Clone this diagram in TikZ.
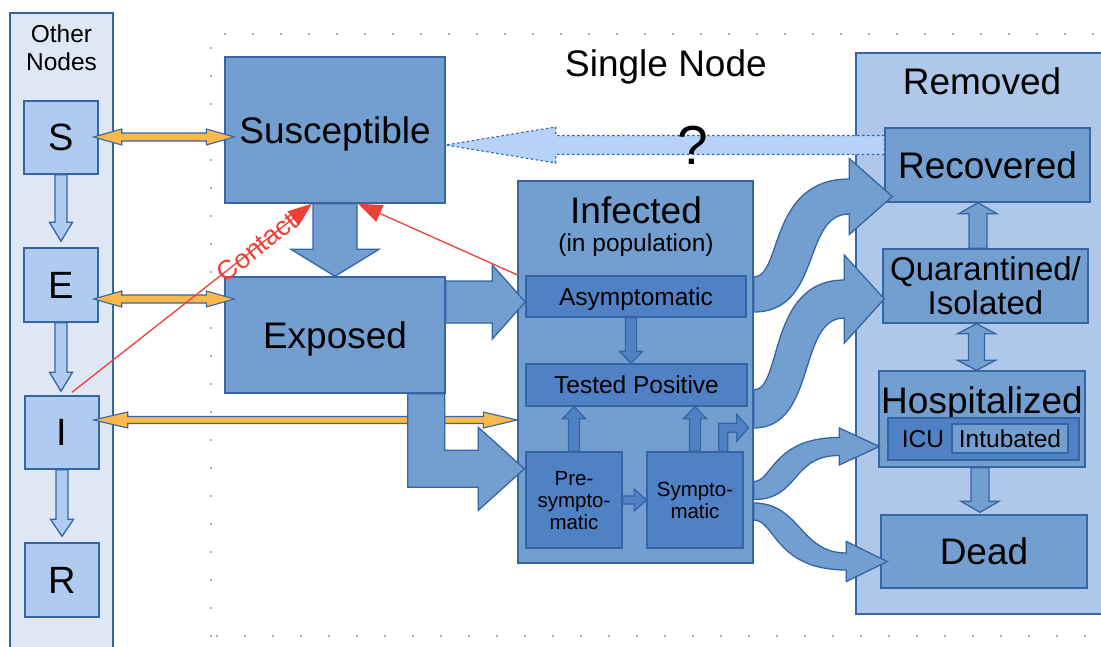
\documentclass[tikz,border=0pt]{standalone}
\usepackage{fontspec}
\setmainfont{Liberation Sans}
\usetikzlibrary{calc,arrows.meta}

\definecolor{flowfill}{HTML}{729FCF}
\definecolor{flowline}{HTML}{3465A4}
\definecolor{deepfill}{HTML}{5081C4}
\definecolor{panelfill}{HTML}{AFC7E8}
\definecolor{sidefill}{HTML}{DEE7F3}
\definecolor{seirfill}{HTML}{AFCBEF}
\definecolor{askfill}{HTML}{B6D2F6}
\definecolor{linkfill}{HTML}{FBB84B}
\definecolor{contactred}{HTML}{EE4036}

\tikzset{
  box/.style={draw=flowline, line width=1.4pt, fill=flowfill, inner sep=0pt, text=black, text depth=0pt},
  deepbox/.style={box, fill=deepfill},
  seirbox/.style={box, fill=seirfill},
  panel/.style={draw=flowline, line width=1.6pt, inner sep=0pt},
  flow/.style={draw=flowline, line width=1.3pt, fill=flowfill},
  deepflow/.style={flow, fill=deepfill},
  seirflow/.style={flow, fill=seirfill},
  linkflow/.style={draw=flowline, line width=1.1pt, fill=linkfill},
  askflow/.style={draw=flowline, line width=1.1pt, fill=askfill, dash pattern=on 2.5pt off 2.5pt},
  contact/.style={draw=contactred, line width=1.3pt, -{Triangle[length=24pt,width=18pt]}},
  txt/.style={inner sep=0pt, text=black, text depth=0pt},
  f20/.style={font=\fontsize{20.5}{22}\selectfont},
  f24/.style={font=\fontsize{24.5}{27.5}\selectfont},
  f32/.style={font=\fontsize{33}{34}\selectfont},
  f36/.style={font=\fontsize{37}{40}\selectfont},
  f37/.style={font=\fontsize{38}{40}\selectfont},
}

% straight block arrow: style, from, to, half shaft, half head, head length
\newcommand\blockarrow[6]{%
  \coordinate (baa) at (#2);
  \coordinate (bab) at (#3);
  \coordinate (bah) at ($(bab)!#6!(baa)$);
  \filldraw[#1] ($(baa)!#4!90:(bab)$) -- ($(bah)!#4!90:(bab)$) -- ($(bah)!#5!90:(bab)$)
    -- (bab) -- ($(bah)!#5!-90:(bab)$) -- ($(bah)!#4!-90:(bab)$) -- ($(baa)!#4!-90:(bab)$) -- cycle;}

% block arrow with a head at each end
\newcommand\twoblockarrow[6]{%
  \coordinate (tba) at (#2);
  \coordinate (tbb) at (#3);
  \coordinate (tbha) at ($(tba)!#6!(tbb)$);
  \coordinate (tbhb) at ($(tbb)!#6!(tba)$);
  \filldraw[#1] (tba) -- ($(tbha)!#5!90:(tbb)$) -- ($(tbha)!#4!90:(tbb)$)
    -- ($(tbhb)!#4!-90:(tba)$) -- ($(tbhb)!#5!-90:(tba)$) -- (tbb)
    -- ($(tbhb)!#5!90:(tba)$) -- ($(tbhb)!#4!90:(tba)$)
    -- ($(tbha)!#4!-90:(tbb)$) -- ($(tbha)!#5!-90:(tbb)$) -- cycle;}

% S-shaped flow arrow: start, tip, half shaft, half head, head length,
% control fractions of the upper edge (start, end) and lower edge (start, end)
\newcommand\sflowarrow[9]{%
  \coordinate (sfs) at (#1);
  \coordinate (sft) at (#2);
  \coordinate (sfb) at ($(sft)+(-#5,0)$);
  \coordinate (sfua) at ($(sfs)+(0,-#3)$);
  \coordinate (sfla) at ($(sfs)+(0,#3)$);
  \coordinate (sfub) at ($(sfb)+(0,-#3)$);
  \coordinate (sflb) at ($(sfb)+(0,#3)$);
  \coordinate (sfuah) at (sfua -| sfub);
  \coordinate (sfubh) at (sfub -| sfua);
  \coordinate (sflah) at (sfla -| sflb);
  \coordinate (sflbh) at (sflb -| sfla);
  \filldraw[flow] (sfua) .. controls ($(sfua)!#6!(sfuah)$) and ($(sfub)!#7!(sfubh)$) .. (sfub)
    -- ($(sfb)+(0,-#4)$) -- (sft) -- ($(sfb)+(0,#4)$) -- (sflb)
    .. controls ($(sflb)!#9!(sflbh)$) and ($(sfla)!#8!(sflah)$) .. (sfla) -- cycle;}

\begin{document}
\begin{tikzpicture}[x=1pt,y=-1pt]
\useasboundingbox (0,0) rectangle (1101,646);
\clip (0,0) rectangle (1101,646);

% dotted frame of the single node
\draw[flowline, line width=1.8pt, line cap=round, dash pattern=on 0pt off 28pt]
  (211,636) -- (211,34) -- (1110,34);
\draw[flowline, line width=1.8pt, line cap=round, dash pattern=on 0pt off 28pt]
  (217,636) -- (1110,636);

% panels
\node[panel, fill=sidefill, minimum width=103pt, minimum height=660pt] (side) at (61.5,343) {};
\node[panel, fill=panelfill, minimum width=260pt, minimum height=561pt] (removed) at (986,333.5) {};

% titles
\node[txt, f24, align=center] (sidetitle) at (61.5,47.5) {Other\\Nodes};
\node[txt, f36] (title) at (666,63.5) {Single Node};
\node[txt, f36] (remtitle) at (982,81.5) {Removed};

% other nodes
\node[seirbox, minimum width=74pt, minimum height=73pt, f37] (S) at (61,137.5) {S};
\node[seirbox, minimum width=74pt, minimum height=74pt, f37] (E) at (61,285) {E};
\node[seirbox, minimum width=74pt, minimum height=73pt, f37] (I) at (62,432.5) {I};
\node[seirbox, minimum width=74pt, minimum height=74pt, f37] (R) at (62,580) {R};

% single node compartments
\node[box, minimum width=220pt, minimum height=146pt, f36] (sus) at (335,130) {Susceptible};
\node[box, minimum width=220pt, minimum height=116pt, f36] (exp) at (335,335) {Exposed};
\node[box, minimum width=235pt, minimum height=382pt] (inf) at (635.5,372) {};
\node[txt, f36] (inftitle) at (636,210) {Infected};
\node[txt, f24] (infsub) at (636,243) {(in population)};
\node[deepbox, minimum width=220pt, minimum height=41pt, f24] (asy) at (636,296.5) {Asymptomatic};
\node[deepbox, minimum width=221pt, minimum height=42pt, f24] (tp) at (636.5,385) {Tested Positive};
\node[deepbox, minimum width=96pt, minimum height=96pt, f20, align=center] (pre) at (574,500) {Pre-\\sympto-\\matic};
\node[deepbox, minimum width=96pt, minimum height=96pt, f20, align=center] (sym) at (695,500) {Sympto-\\matic};

% removed compartments
\node[box, minimum width=205pt, minimum height=74pt, f36] (rec) at (987.5,165) {Recovered};
\node[box, minimum width=205pt, minimum height=74pt, f32, align=center] (qua) at (985.5,286) {Quarantined/\\Isolated};
\node[box, minimum width=206pt, minimum height=96pt] (hos) at (982,419) {};
\node[txt, f36] (hostitle) at (982,400) {Hospitalized};
\node[deepbox, minimum width=191pt, minimum height=42pt] (icu) at (983.5,439) {};
\node[txt, f24] (icutext) at (923,439) {ICU};
\node[box, minimum width=116pt, minimum height=29pt, f24] (intub) at (1010,438.5) {Intubated};
\node[box, minimum width=206pt, minimum height=73pt, f36] (dead) at (984,551.5) {Dead};

% unknown return flow
\blockarrow{askflow}{$(rec.west)+(0,-20)$}{$(sus.east)+(0,15)$}{9.5pt}{18pt}{110pt}
\node[txt, font=\fontsize{55}{55}\selectfont] (ask) at (693,145.3) {?};

% S-E-I-R chain of the other nodes
\blockarrow{seirflow}{S.south}{$(E.north)+(0,-6)$}{6pt}{11.5pt}{19pt}
\blockarrow{seirflow}{E.south}{$(E.south |- I.north)+(0,-4)$}{6pt}{11.5pt}{19pt}
\blockarrow{seirflow}{I.south}{$(R.north)+(0,-6)$}{6pt}{11.5pt}{17pt}

% links between the nodes
\twoblockarrow{linkflow}{$(S.east)+(-5,-0.5)$}{$(sus.west)+(10,7)$}{4pt}{8pt}{28pt}
\twoblockarrow{linkflow}{$(E.east)+(-5,14)$}{$(exp.west)+(10,-36)$}{4pt}{8pt}{28pt}
\twoblockarrow{linkflow}{$(I.east)+(-6,-12.5)$}{$(inf.west)+(0,48)$}{3.5pt}{8pt}{34pt}

% susceptible -> exposed -> infected
\blockarrow{flow}{sus.south}{exp.north}{22pt}{44pt}{27pt}
\blockarrow{flow}{$(exp.east |- asy.west)+(0,5.5)$}{$(asy.west)+(0,5.5)$}{21pt}{37pt}{33pt}
\coordinate (elbowtop) at ($(exp.south east)+(-19.5,0)$);
\coordinate (elbowtip) at ($(pre.north west)+(-1,17.5)$);
\filldraw[flow] ($(elbowtop)+(-18.5,0)$) -- ($(elbowtop)+(18.5,0)$)
  -- ($(elbowtop |- elbowtip)+(18.5,-18.5)$) -- ($(elbowtip)+(-46,-18.5)$)
  -- ($(elbowtip)+(-46,-41.5)$) -- (elbowtip) -- ($(elbowtip)+(-46,41.5)$)
  -- ($(elbowtip)+(-46,18.5)$) -- ($(elbowtop |- elbowtip)+(-18.5,18.5)$) -- cycle;

% inside the infected compartment
\blockarrow{deepflow}{$(asy.south)+(-5,0)$}{$(asy.south |- tp.north)+(-5,0)$}{5.5pt}{11.5pt}{12pt}
\blockarrow{deepflow}{pre.north}{pre.north |- tp.south}{5.5pt}{11.5pt}{12pt}
\blockarrow{deepflow}{sym.north}{sym.north |- tp.south}{5.5pt}{11.5pt}{12pt}
\blockarrow{deepflow}{pre.east}{sym.west}{4pt}{11pt}{12pt}
\coordinate (hookfoot) at ($(sym.north east)+(-20.5,0)$);
\coordinate (hooktip) at ($(sym.north east)+(5,-23.5)$);
\filldraw[deepflow] ($(hookfoot)+(-4.5,0)$) -- ($(hookfoot |- hooktip)+(-4.5,-4.5)$)
  -- ($(hooktip)+(-12,-4.5)$) -- ($(hooktip)+(-12,-13.5)$) -- (hooktip)
  -- ($(hooktip)+(-12,13.5)$) -- ($(hooktip)+(-12,4.5)$)
  -- ($(hookfoot |- hooktip)+(4.5,4.5)$) -- ($(hookfoot)+(4.5,0)$) -- cycle;

% infected -> removed
\sflowarrow{$(inf.east)+(0,-77.5)$}{$(rec.west)+(8,31.5)$}{17.5}{38}{43}{0.3}{0.85}{0.72}{0.5}
\sflowarrow{$(inf.east)+(0,37)$}{$(qua.west)+(2,13)$}{19}{44}{40}{0.32}{0.85}{0.7}{0.52}
\sflowarrow{$(inf.east)+(0,118.5)$}{$(hos.west)+(1,27.5)$}{9}{18.5}{40}{0.22}{0.78}{0.54}{0.57}
\sflowarrow{$(inf.east)+(0,139.5)$}{$(dead.west)+(7,10)$}{8.5}{20}{41}{0.5}{0.5}{0.23}{0.77}

% inside the removed compartment
\blockarrow{flow}{$(qua.north)+(-7.5,0)$}{$(qua.north |- rec.south)+(-7.5,0)$}{9pt}{19pt}{11pt}
\twoblockarrow{flow}{$(qua.south)+(-9,0)$}{$(qua.south |- hos.north)+(-9,0)$}{8pt}{19pt}{10pt}
\blockarrow{flow}{$(hos.south)+(-2,0)$}{$(hos.south |- dead.north)+(-2,-2)$}{9pt}{19pt}{11pt}

% contact
\draw[contact] ($(I.north)+(10,-3)$) -- node[pos=0.77, sloped, inner sep=0pt, text=contactred,
  font=\fontsize{27}{27}\selectfont] (contactlabel) {Contact} ($(sus.south)+(-23,0)$);
\draw[contact] ($(asy.north west)+(-7,0)$) -- ($(sus.south)+(23,0)$);
\end{tikzpicture}
\end{document}
